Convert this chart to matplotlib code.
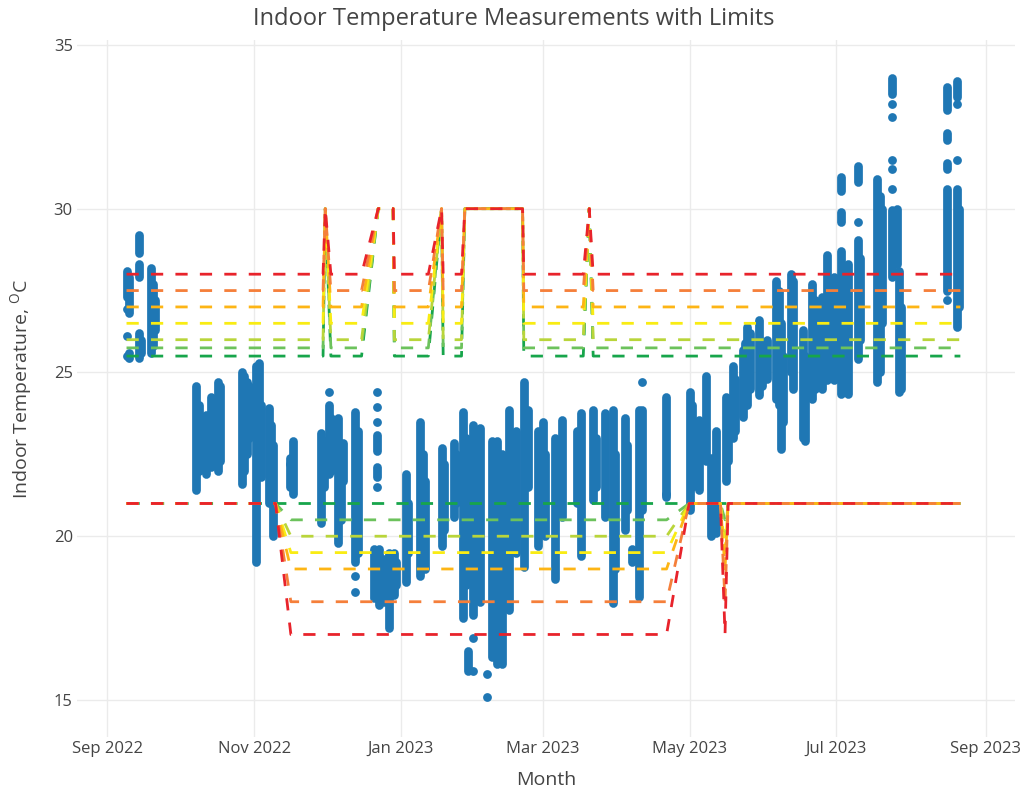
import numpy as np
import pandas as pd
import matplotlib
matplotlib.use("Agg")
import matplotlib.pyplot as plt
import matplotlib.dates as mdates

plt.rcParams['font.family'] = ['Open Sans', 'DejaVu Sans']
plt.rcParams['mathtext.fontset'] = 'custom'
plt.rcParams['mathtext.rm'] = 'Open Sans'

# measured temperatures: continuous strips per day (lo..hi) plus single readings
seg_day = ["2022-09-09", "2022-09-10", "2022-09-14", "2022-09-14", "2022-09-14", "2022-09-15",
           "2022-09-19", "2022-09-20", "2022-09-21",
           "2022-10-08", "2022-10-09", "2022-10-12", "2022-10-13", "2022-10-14", "2022-10-17", "2022-10-18",
           "2022-10-27", "2022-10-28", "2022-10-29", "2022-10-30", "2022-11-02", "2022-11-03", "2022-11-04",
           "2022-11-07", "2022-11-08", "2022-11-09", "2022-11-16", "2022-11-17",
           "2022-11-29", "2022-11-30", "2022-12-02", "2022-12-03", "2022-12-06", "2022-12-07", "2022-12-08",
           "2022-12-13", "2022-12-14",
           "2022-12-22", "2022-12-22", "2022-12-21", "2022-12-23", "2022-12-25", "2022-12-27", "2022-12-29",
           "2022-12-30", "2023-01-03", "2023-01-04",
           "2023-01-09", "2023-01-10", "2023-01-11", "2023-01-18", "2023-01-19", "2023-01-23", "2023-01-24",
           "2023-01-27", "2023-01-28", "2023-01-29", "2023-01-31", "2023-02-01", "2023-02-03",
           "2023-02-08", "2023-02-10", "2023-02-12", "2023-02-15", "2023-02-18", "2023-02-21", "2023-02-23",
           "2023-02-27", "2023-03-01", "2023-03-02", "2023-03-06", "2023-03-09", "2023-03-15", "2023-03-17",
           "2023-03-22", "2023-03-23", "2023-03-27", "2023-03-30", "2023-03-31", "2023-04-04", "2023-04-05",
           "2023-04-07", "2023-04-10", "2023-04-11",
           "2023-04-21", "2023-05-01", "2023-05-02", "2023-05-05", "2023-05-08", "2023-05-10", "2023-05-12",
           "2023-05-16", "2023-05-17", "2023-05-19", "2023-05-20", "2023-05-23", "2023-05-24", "2023-05-25",
           "2023-05-26", "2023-05-30", "2023-05-31", "2023-06-02", "2023-06-06", "2023-06-07", "2023-06-08",
           "2023-06-09", "2023-06-12", "2023-06-13", "2023-06-17", "2023-06-18", "2023-06-21", "2023-06-22",
           "2023-06-25", "2023-06-26",
           "2023-06-27", "2023-06-28", "2023-06-30", "2023-07-03", "2023-07-03", "2023-07-03", "2023-07-06",
           "2023-07-10", "2023-07-10", "2023-07-11", "2023-07-18", "2023-07-19", "2023-07-20", "2023-07-24",
           "2023-07-24", "2023-07-26", "2023-07-27", "2023-07-28",
           "2023-08-16", "2023-08-16", "2023-08-16", "2023-08-16", "2023-08-20", "2023-08-20", "2023-08-21"]
seg_lo = [27.3, 26.8, 28.65, 27.9, 25.45, 25.6,
          25.6, 25.8, 26.3,
          21.4, 22.0, 21.9, 22.4, 22.1, 22.0, 22.3,
          21.6, 22.0, 22.5, 23.0, 19.2, 22.7, 21.8,
          21.0, 21.5, 20.0, 21.5, 21.3,
          20.4, 21.5, 21.9, 22.0, 19.8, 20.5, 21.7,
          19.2, 19.5,
          22.6, 21.8, 18.1, 17.9, 18.0, 17.2, 18.2,
          18.5, 18.6, 19.5,
          18.8, 19.5, 19.0, 19.7, 20.2, 20.6, 21.0,
          17.5, 18.5, 15.9, 17.6, 18.5, 18.0,
          16.3, 16.1, 16.1, 17.75, 19.5, 19.06, 21.5,
          19.7, 20.6, 20.0, 18.7, 20.6, 21.0, 19.4,
          21.1, 21.5, 20.6, 17.96, 19.0, 20.2, 20.8,
          19.2, 18.15, 20.8,
          21.2, 20.8, 21.5, 21.4, 22.3, 20.0, 20.1,
          21.7, 22.3, 23.0, 23.2, 23.65, 24.0, 24.0,
          24.5, 24.3, 24.6, 24.8, 24.2, 24.0, 22.65,
          23.5, 25.0, 24.5, 23.0, 22.9, 24.2, 24.5,
          24.5, 25.0,
          24.77, 25.0, 24.77, 24.35, 29.6, 30.55, 24.35,
          25.4, 30.8, 26.0, 24.7, 25.0, 26.5, 27.9,
          33.5, 28.3, 24.4, 24.5,
          27.5, 33.0, 32.1, 31.2, 26.4, 33.4, 27.0]
seg_hi = [28.1, 27.9, 29.2, 28.3, 26.2, 26.0,
          28.2, 27.7, 27.2,
          24.6, 24.0, 23.7, 23.4, 24.25, 24.7, 24.6,
          25.0, 24.9, 24.7, 24.6, 25.2, 25.3, 24.0,
          23.9, 23.4, 22.8, 22.4, 22.9,
          23.15, 22.9, 24.0, 23.6, 23.6, 22.5, 22.85,
          23.8, 23.2,
          23.1, 22.1, 19.6, 19.6, 19.3, 19.5, 19.5,
          19.2, 21.9, 21.0,
          23.5, 22.5, 21.7, 22.7, 22.2, 22.85, 22.5,
          23.8, 23.0, 16.5, 23.4, 22.8, 23.3,
          22.9, 22.9, 22.5, 23.85, 23.2, 24.7, 23.85,
          23.2, 23.5, 22.5, 23.0, 23.55, 23.2, 23.76,
          23.85, 23.0, 23.76, 23.85, 22.5, 23.6, 22.8,
          19.6, 23.85, 23.85,
          24.25, 24.4, 24.0, 23.55, 24.9, 22.4, 23.2,
          24.25, 24.0, 25.2, 24.8, 25.7, 25.9, 26.4,
          26.2, 26.6, 25.8, 26.0, 27.8, 27.5, 26.5,
          25.5, 28.0, 27.8, 26.3, 25.5, 27.7, 27.2,
          27.3, 26.8,
          28.6, 27.5, 27.9, 28.7, 29.9, 30.97, 28.3,
          29.05, 31.3, 28.5, 30.9, 30.4, 30.0, 29.95,
          34.0, 30.0, 28.1, 27.0,
          30.6, 33.7, 32.3, 31.4, 30.6, 33.9, 30.0]

dot_day = ["2022-09-09", "2022-09-09", "2022-09-09", "2022-09-10", "2022-09-10",
           "2022-11-16", "2022-12-02", "2022-12-13", "2022-12-13",
           "2022-12-22", "2022-12-22", "2022-12-22", "2022-12-22",
           "2023-01-31", "2023-01-31", "2023-02-06", "2023-02-06", "2023-04-11", "2023-04-21",
           "2023-07-10", "2023-07-24", "2023-07-24", "2023-07-24", "2023-07-24", "2023-07-24",
           "2023-08-16", "2023-08-20", "2023-08-20"]
dot_temp = [26.95, 26.1, 25.5, 25.6, 25.45,
            22.2, 24.4, 18.8, 18.3,
            24.4, 23.95, 23.5, 21.5,
            16.9, 15.9, 15.8, 15.1, 24.7, 21.3,
            29.6, 30.6, 31.2, 31.5, 32.8, 33.2,
            27.2, 33.2, 31.5]

# comfort limits (red -> green)
limit_colors = ['#E8232B', '#F57F3A', '#FDB515', '#F9EC13', '#B9D53A', '#6CC25C', '#17A54B']
upper_levels = [28, 27.5, 27, 26.5, 26, 25.75, 25.5]
lower_levels = [17, 18, 19, 19.5, 20, 20.5, 21]
upper_off = 30      # upper limit value when no cooling limit applies
lower_summer = 21   # lower limit outside heating season

upper_dates = ["2022-09-09 00:00", "2022-11-29 16:00", "2022-11-30 14:00", "2022-12-02 22:00",
               "2022-12-15 16:00", "2022-12-22 14:00", "2022-12-28 19:00", "2022-12-29 07:00",
               "2023-01-12 10:00", "2023-01-17 22:00", "2023-01-18 14:00", "2023-01-26 05:00",
               "2023-01-27 14:00", "2023-02-20 14:00", "2023-02-21 02:00", "2023-03-17 19:00",
               "2023-03-20 07:00", "2023-03-21 22:00", "2023-08-21 12:00"]
upper_is_off = [0, 0, 1, 0, 0, 1, 1, 0, 0, 1, 0, 0, 1, 1, 0, 0, 1, 0, 0]

lower_dates = ["2022-09-09 00:00", "2022-11-09 22:00", "2022-11-16 07:00", "2023-04-21 10:00",
               "2023-04-30 19:00", "2023-05-13 19:00", "2023-05-15 17:00", "2023-05-17 00:00",
               "2023-08-21 12:00"]
lower_is_winter = [0, 0, 1, 1, 0, 0, 1, 0, 0]

fig = plt.figure(figsize=(10.27, 7.89), dpi=100)
ax = fig.add_axes([77 / 1027, 52 / 789, 938 / 1027, 697 / 789])

blue = '#1f77b4'
ax.vlines(pd.to_datetime(seg_day), seg_lo, seg_hi, colors=blue, linewidth=6.3,
          capstyle='round', zorder=2)
ax.scatter(pd.to_datetime(dot_day), dot_temp, s=40, color=blue, linewidths=0, zorder=2)

up_x = pd.to_datetime(upper_dates, format="%Y-%m-%d %H:%M")
lo_x = pd.to_datetime(lower_dates, format="%Y-%m-%d %H:%M")
off = np.array(upper_is_off, dtype=bool)
win = np.array(lower_is_winter, dtype=bool)
for i in reversed(range(len(limit_colors))):
    ax.plot(up_x, np.where(off, upper_off, upper_levels[i]), color=limit_colors[i],
            lw=2.0, linestyle=(0, (4.4, 4.4)), zorder=3)
    ax.plot(lo_x, np.where(win, lower_levels[i], lower_summer), color=limit_colors[i],
            lw=2.0, linestyle=(0, (4.4, 4.4)), zorder=3)

ax.set_xlim(pd.Timestamp("2022-08-19 10:00"), pd.Timestamp("2023-09-13 05:00"))
ax.set_ylim(13.87, 35.15)
ax.set_yticks([15, 20, 25, 30, 35])
ax.xaxis.set_major_locator(mdates.MonthLocator(bymonth=[1, 3, 5, 7, 9, 11]))
ax.xaxis.set_major_formatter(mdates.DateFormatter('%b %Y'))

ax.grid(True, color='#ebebeb', linewidth=1.0, zorder=0)
ax.set_axisbelow(True)
for s in ax.spines.values():
    s.set_visible(False)
ax.tick_params(length=0, labelsize=12, labelcolor='#444', pad=3)

ax.set_xlabel('Month', fontsize=14, color='#444')
ax.xaxis.set_label_coords(0.5, -0.049)
ax.set_ylabel(r'Indoor Temperature, $^{\rm O}$C', fontsize=14, color='#444')
ax.yaxis.set_label_coords(-0.045, 0.5)

fig.text(0.5, 1 - 19 / 789, 'Indoor Temperature Measurements with Limits',
         ha='center', va='center', fontsize=17, color='#444')

fig.savefig('out.png', dpi=100)
